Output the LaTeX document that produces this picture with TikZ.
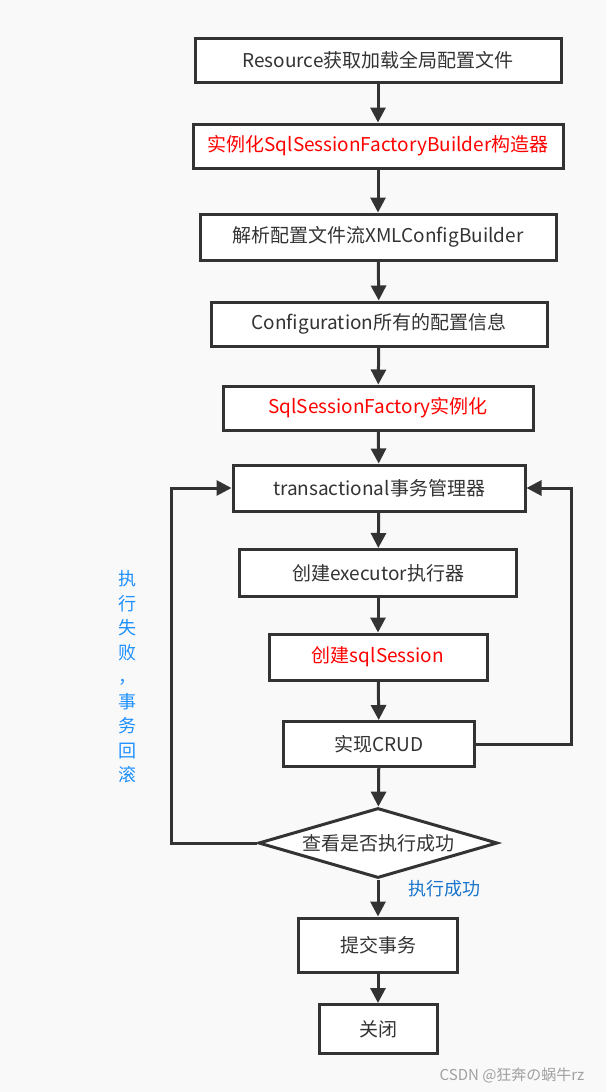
\documentclass[tikz,border=0pt]{standalone}
\usepackage{fontspec}
\setmainfont{Noto Sans CJK SC}
\usepackage{xcolor}
\definecolor{boxline}{RGB}{51,51,51}
\definecolor{pagebg}{RGB}{249,249,249}
\definecolor{failblue}{RGB}{30,144,255}
\definecolor{okblue}{RGB}{24,116,205}
\definecolor{markgray}{RGB}{160,160,160}
\usetikzlibrary{arrows.meta,positioning,shapes.geometric,calc}
\tikzset{
  stepbox/.style={draw=boxline, fill=white, line width=3pt, inner sep=0pt, text=boxline, font=\fontsize{19}{22}\selectfont},
  hot/.style={text=red},
  flow/.style={-{Triangle[length=15pt,width=15pt]}, line width=3pt, draw=boxline},
}

\begin{document}
\begin{tikzpicture}[x=1pt,y=-1pt]
  \useasboundingbox[fill=pagebg] (0,0) rectangle (606,1092);

  %% Main chain
  \node[stepbox, minimum width=366, minimum height=44]      (res)   at (378,60)   {Resource获取加载全局配置文件};
  \node[stepbox, hot, minimum width=370, minimum height=44] (ssfb)  at (378,146)  {实例化SqlSessionFactoryBuilder构造器};
  \node[stepbox, minimum width=356, minimum height=46]      (xml)   at (378,237)  {解析配置文件流XMLConfigBuilder};
  \node[stepbox, minimum width=336, minimum height=44]      (conf)  at (379,324)  {Configuration所有的配置信息};
  \node[stepbox, hot, minimum width=310, minimum height=44] (ssf)   at (378,408)  {SqlSessionFactory实例化};
  \node[stepbox, minimum width=292, minimum height=46]      (txm)   at (379,488)  {transactional事务管理器};
  \node[stepbox, minimum width=277, minimum height=47]      (exec)  at (378,573)  {创建executor执行器};
  \node[stepbox, hot, minimum width=218, minimum height=46] (sess)  at (378,657)  {创建sqlSession};
  \node[stepbox, minimum width=191, minimum height=45]      (crud)  at (379,744)  {实现CRUD};
  \node[stepbox, shape=diamond, aspect=3.4, minimum width=239, minimum height=70] (chk) at (378,843) {查看是否执行成功};
  \node[stepbox, minimum width=159, minimum height=54]      (commit) at (378,945) {提交事务};
  \node[stepbox, minimum width=118, minimum height=49]      (close) at (378,1029) {关闭};

  \draw[flow] (res) -- (ssfb);
  \draw[flow] (ssfb) -- (xml);
  \draw[flow] (xml) -- (conf);
  \draw[flow] (conf) -- (ssf);
  \draw[flow] (ssf) -- (txm);
  \draw[flow] (txm) -- (exec);
  \draw[flow] (exec) -- (sess);
  \draw[flow] (sess) -- (crud);
  \draw[flow] (crud) -- (chk);
  \draw[flow] (chk) -- (commit);
  \draw[flow] (commit) -- (close);

  %% Loops back to the transaction manager
  \draw[flow] (chk.west) -- ++(-86,0) |- (txm.west);
  \draw[flow] (crud.east) -- ++(95,0) |- (txm.east);

  \node[text=failblue, align=center, font=\fontsize{18}{24.5}\selectfont] (fail) at (127,677)
    {执\\行\\失\\败\\，\\事\\务\\回\\滚};
  \node[text=okblue, font=\fontsize{18}{22}\selectfont] (ok) at (444,889) {执行成功};

  \node[text=markgray, font=\fontsize{15}{17}\selectfont] (mark) at (512,1075) {CSDN @狂奔の蜗牛rz};
\end{tikzpicture}
\end{document}
